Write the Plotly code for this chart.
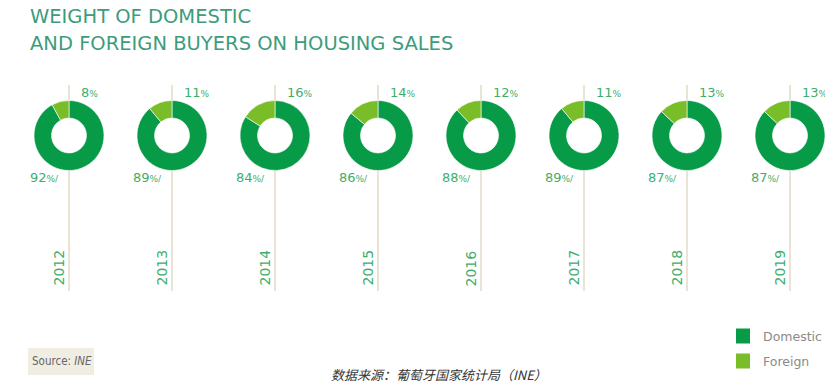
import plotly.graph_objects as go

years = ["2012", "2013", "2014", "2015", "2016", "2017", "2018", "2019"]
domestic = [92, 89, 84, 86, 88, 89, 87, 87]
foreign = [8, 11, 16, 14, 12, 11, 13, 13]
series_names = ["Domestic", "Foreign"]
title_lines = ["WEIGHT OF DOMESTIC", "AND FOREIGN BUYERS ON HOUSING SALES"]
source_text = "Source: <i>INE</i>"
cn_source = "<i>数据来源：葡萄牙国家统计局（INE）</i>"

# the page body has an 8px margin: size the figure so it fills the window
OFF = 8
W, H = 833 - OFF, 385 - OFF
C_DOM = "#079a47"
C_FOR = "#79bd28"
C_LBL = "#3fae6c"
C_TITLE = "#3d9c7c"
C_LINE = "#e9e4d3"
COLORS = [C_DOM, C_FOR]


def px(X):
    return (X - OFF) / W


def py(Y):
    return 1 - (Y - OFF) / H


cx0, dx = 69, 103.0
cy, R = 135.5, 35

fig = go.Figure()
for i, yr in enumerate(years):
    cx = cx0 + i * dx
    fig.add_trace(go.Pie(
        labels=series_names,
        values=[domestic[i], foreign[i]],
        marker=dict(colors=COLORS, line=dict(color="white", width=0.6)),
        hole=0.5, sort=False, direction="counterclockwise", rotation=0,
        textinfo="none", hoverinfo="label+percent",
        showlegend=False,
        domain=dict(x=[px(cx - R), px(cx + R)], y=[py(cy + R), py(cy - R)]),
    ))
    fig.add_shape(type="line", xref="paper", yref="paper",
                  x0=px(cx), x1=px(cx), y0=py(85), y1=py(cy - R),
                  line=dict(color=C_LINE, width=2), layer="below")
    fig.add_shape(type="line", xref="paper", yref="paper",
                  x0=px(cx), x1=px(cx), y0=py(cy + R), y1=py(291),
                  line=dict(color=C_LINE, width=2), layer="below")
    fig.add_annotation(x=px(cx + 10), y=py(93), xref="paper", yref="paper",
                       xanchor="left", yanchor="middle", showarrow=False,
                       text=f"{foreign[i]}<span style='font-size:9px'>%</span>",
                       font=dict(size=13, color=C_LBL, family="DejaVu Sans"))
    fig.add_annotation(x=px(cx - 8), y=py(177), xref="paper", yref="paper",
                       xanchor="right", yanchor="middle", showarrow=False,
                       text=f"{domestic[i]}<span style='font-size:9px'>%/</span>",
                       font=dict(size=13, color=C_LBL, family="DejaVu Sans"))
    fig.add_annotation(x=px(cx - 10.5), y=py(268), xref="paper", yref="paper",
                       xanchor="center", yanchor="middle", showarrow=False, textangle=-90,
                       text=yr, font=dict(size=14, color=C_LBL, family="DejaVu Sans"))

for j, t in enumerate(title_lines):
    fig.add_annotation(x=px(28), y=py(16 + 27 * j), xref="paper", yref="paper",
                       xanchor="left", yanchor="middle", showarrow=False, text=t,
                       font=dict(size=19.5, color=C_TITLE, family="DejaVu Sans"))

# source box
fig.add_shape(type="rect", xref="paper", yref="paper", x0=px(28), x1=px(94),
              y0=py(375), y1=py(348), fillcolor="#f0ede3", line=dict(width=0), layer="below")
fig.add_annotation(x=px(62), y=py(361), xref="paper", yref="paper", xanchor="center",
                   yanchor="middle", showarrow=False, text=source_text,
                   font=dict(size=11.5, color="#666666", family="DejaVu Sans Condensed"))
fig.add_annotation(x=px(439), y=py(374), xref="paper", yref="paper", xanchor="center",
                   yanchor="middle", showarrow=False, text=cn_source,
                   font=dict(size=13, color="#333333", family="Noto Sans CJK SC"))

# legend
for k, name in enumerate(series_names):
    yc = 336 + 25 * k
    fig.add_shape(type="rect", xref="paper", yref="paper", x0=px(736), x1=px(750),
                  y0=py(yc + 7.5), y1=py(yc - 7.5), fillcolor=COLORS[k], line=dict(width=0))
    fig.add_annotation(x=px(761), y=py(yc), xref="paper", yref="paper", xanchor="left",
                       yanchor="middle", showarrow=False, text=name,
                       font=dict(size=12.5, color="#8a8a8a", family="DejaVu Sans"))

fig.update_layout(
    width=W, height=H, margin=dict(l=0, r=0, t=0, b=0),
    paper_bgcolor="white", plot_bgcolor="white", showlegend=False,
)
fig.write_html("out.html")
